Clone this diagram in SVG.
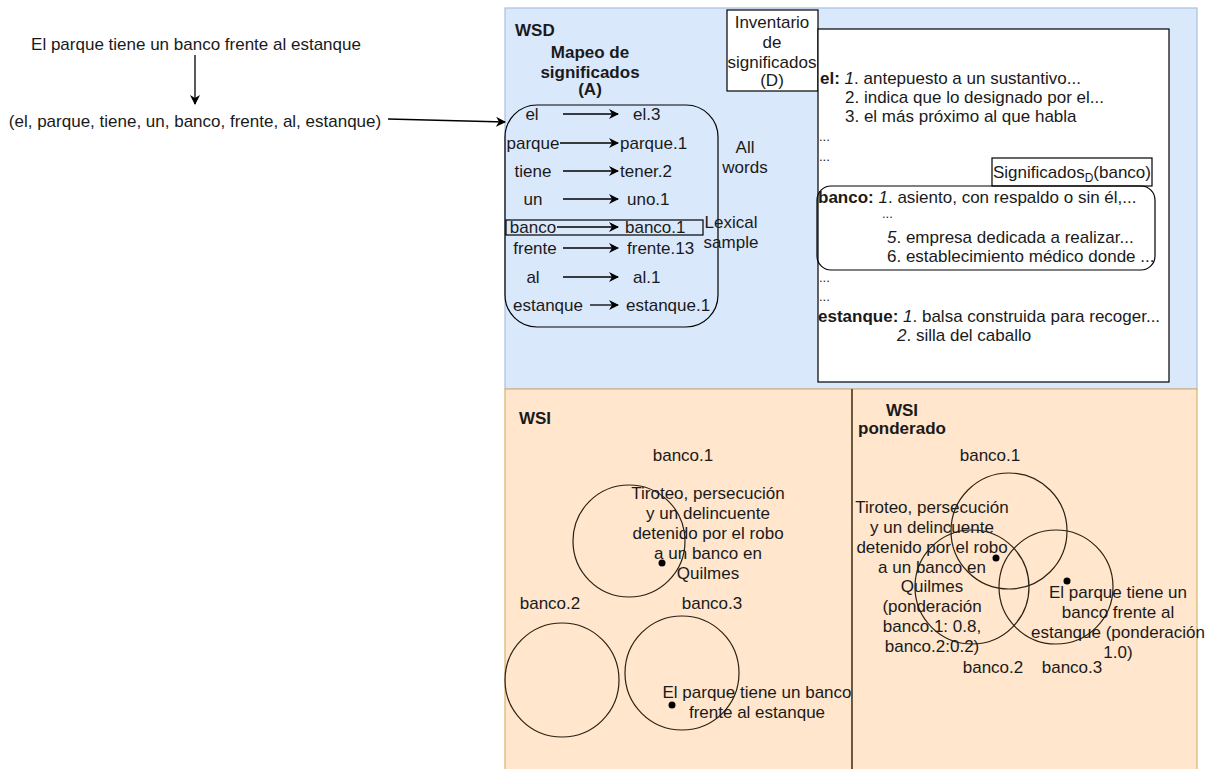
<svg xmlns="http://www.w3.org/2000/svg" width="1212" height="769" viewBox="0 0 1212 769">
  <style>
    text { font-family: "Liberation Sans", Arial, sans-serif; font-size: 17px; fill: #1a1a1a; }
    .b { font-weight: bold; }
    .i { font-style: italic; }
    .c { text-anchor: middle; }
    .dots { font-size: 13px; }
    .ln { stroke: #000; stroke-width: 1.3; fill: none; }
    .circ { stroke: #2a2014; stroke-width: 1.2; fill: none; }
    .box { stroke: #000; stroke-width: 1.2; fill: #fff; }
  </style>
  <defs>
    <marker id="arr" viewBox="0 0 10 10" refX="9" refY="5" markerWidth="10" markerHeight="10" markerUnits="userSpaceOnUse" orient="auto">
      <path d="M0,0 L10,5 L0,10 L3,5 Z" fill="#000"/>
    </marker>
  </defs>

  <rect width="1212" height="769" fill="#fff"/>

  <!-- input sentence -->
  <g id="sentence">
    <text x="196" y="50" class="c">El parque tiene un banco frente al estanque</text>
  </g>
  <g id="tokens">
    <text x="195" y="127" class="c">(el, parque, tiene, un, banco, frente, al, estanque)</text>
  </g>

  <!-- WSD panel -->
  <g id="wsd">
    <rect x="505" y="8" width="692" height="381" fill="#dae8fc" stroke="#a9c0e0" stroke-width="1.2"/>
    <text x="515" y="36" class="b">WSD</text>
    <text x="590" y="58" class="b c">Mapeo de</text>
    <text x="590" y="78" class="b c">significados</text>
    <text x="590" y="95" class="b c">(A)</text>
  </g>

  <!-- WSI panels -->
  <g id="wsi">
    <rect x="505" y="389" width="347" height="390" fill="#ffe6cc" stroke="#d7b46a" stroke-width="1.2"/>
    <text x="535" y="424" class="b c">WSI</text>
  </g>
  <g id="wsi-ponderado">
    <rect x="852" y="389" width="345" height="390" fill="#ffe6cc" stroke="#d7b46a" stroke-width="1.2"/>
    <line x1="852" y1="389" x2="852" y2="769" stroke="#2a2014" stroke-width="1.3"/>
    <text x="902" y="416" class="b c">WSI</text>
    <text x="902" y="434" class="b c">ponderado</text>
  </g>

  <!-- sense inventory -->
  <g id="inventario">
    <rect x="727" y="10" width="91" height="81" class="box"/>
    <text x="772" y="28" class="c">Inventario</text>
    <text x="772" y="48" class="c">de</text>
    <text x="772" y="68" class="c">significados</text>
    <text x="772" y="86" class="c">(D)</text>
  </g>

  <g id="definiciones">
    <rect x="818" y="29" width="351" height="353" class="box"/>
    <text x="820" y="84"><tspan class="b">el:</tspan> <tspan class="i">1</tspan>. antepuesto a un sustantivo...</text>
    <text x="845" y="103">2. indica que lo designado por el...</text>
    <text x="845" y="122">3. el más próximo al que habla</text>
    <text x="819" y="141" class="dots">...</text>
    <text x="819" y="161" class="dots">...</text>
    <text x="819" y="282" class="dots">...</text>
    <text x="819" y="301" class="dots">...</text>
    <text x="818" y="322"><tspan class="b">estanque:</tspan> <tspan class="i">1</tspan>. balsa construida para recoger...</text>
    <text x="897" y="341"><tspan class="i">2</tspan>. silla del caballo</text>
  </g>

  <g id="significados-banco">
    <rect x="992" y="158" width="160" height="28" class="box"/>
    <text x="1072" y="178" class="c">Significados<tspan font-size="12" dy="4">D</tspan><tspan dy="-4">(banco)</tspan></text>
  </g>

  <g id="banco-entry">
    <rect x="817" y="186" width="338" height="84" rx="14" ry="14" fill="none" stroke="#000" stroke-width="1.2"/>
    <text x="818" y="203"><tspan class="b">banco:</tspan> <tspan class="i">1</tspan>. asiento, con respaldo o sin él,...</text>
    <text x="882" y="218" class="dots">...</text>
    <text x="887" y="243"><tspan class="i">5</tspan>. empresa dedicada a realizar...</text>
    <text x="887" y="262">6. establecimiento médico donde ...</text>
  </g>

  <!-- word to sense mapping -->
  <g id="mapeo">
    <rect x="505" y="105" width="213" height="222" rx="32" ry="32" fill="none" stroke="#000" stroke-width="1.2"/>
    <rect x="506" y="220" width="197" height="15" fill="none" stroke="#000" stroke-width="1.2"/>
    <text x="532" y="120" class="c">el</text>
    <text x="533" y="149" class="c">parque</text>
    <text x="533" y="177" class="c">tiene</text>
    <text x="533" y="205" class="c">un</text>
    <text x="533" y="233" class="c">banco</text>
    <text x="535" y="254" class="c">frente</text>
    <text x="533" y="283" class="c">al</text>
    <text x="548" y="311" class="c">estanque</text>
    <text x="633" y="120">el.3</text>
    <text x="620" y="149">parque.1</text>
    <text x="620" y="177">tener.2</text>
    <text x="627" y="205">uno.1</text>
    <text x="625" y="233">banco.1</text>
    <text x="627" y="254">frente.13</text>
    <text x="633" y="283">al.1</text>
    <text x="626" y="311">estanque.1</text>
    <text x="745" y="153" class="c">All</text>
    <text x="745" y="173" class="c">words</text>
    <text x="731" y="228" class="c">Lexical</text>
    <text x="731" y="248" class="c">sample</text>
  </g>

  <!-- WSI clusters -->
  <g id="wsi-clusters">
    <text x="683" y="461" class="c">banco.1</text>
    <circle cx="629" cy="541" r="56" class="circ"/>
    <text x="708" y="499" class="c">Tiroteo, persecución</text>
    <text x="708" y="519" class="c">y un delincuente</text>
    <text x="708" y="539" class="c">detenido por el robo</text>
    <text x="708" y="559" class="c">a un banco en</text>
    <text x="708" y="579" class="c">Quilmes</text>
    <circle cx="662" cy="563" r="3.5" fill="#000"/>

    <text x="550" y="609" class="c">banco.2</text>
    <text x="712" y="609" class="c">banco.3</text>
    <circle cx="562" cy="680" r="57" class="circ"/>
    <circle cx="682" cy="673" r="57" class="circ"/>
    <text x="757" y="698" class="c">El parque tiene un banco</text>
    <text x="757" y="718" class="c">frente al estanque</text>
    <circle cx="672" cy="705" r="3.5" fill="#000"/>
  </g>

  <g id="wsi-ponderado-clusters">
    <text x="990" y="461" class="c">banco.1</text>
    <circle cx="1009" cy="531" r="58" class="circ"/>
    <circle cx="972" cy="587" r="57" class="circ"/>
    <circle cx="1056" cy="587" r="57" class="circ"/>
    <text x="932" y="513" class="c">Tiroteo, persecución</text>
    <text x="932" y="533" class="c">y un delincuente</text>
    <text x="932" y="553" class="c">detenido por el robo</text>
    <text x="932" y="573" class="c">a un banco en</text>
    <text x="932" y="592" class="c">Quilmes</text>
    <text x="932" y="612" class="c">(ponderación</text>
    <text x="932" y="632" class="c">banco.1: 0.8,</text>
    <text x="932" y="652" class="c">banco.2:0.2)</text>
    <circle cx="996" cy="558" r="3.5" fill="#000"/>
    <text x="1118" y="598" class="c">El parque tiene un</text>
    <text x="1118" y="618" class="c">banco frente al</text>
    <text x="1118" y="638" class="c">estanque (ponderación</text>
    <text x="1118" y="658" class="c">1.0)</text>
    <circle cx="1067" cy="581" r="3.5" fill="#000"/>
    <text x="993" y="673" class="c">banco.2</text>
    <text x="1072" y="673" class="c">banco.3</text>
  </g>

  <!-- connectors -->
  <g id="connectors">
    <line x1="195" y1="55" x2="195" y2="104" class="ln" marker-end="url(#arr)"/>
    <line x1="388" y1="119" x2="505" y2="122" class="ln" marker-end="url(#arr)"/>
    <line x1="563" y1="114" x2="618" y2="114" class="ln" marker-end="url(#arr)"/>
    <line x1="560" y1="143" x2="618" y2="143" class="ln" marker-end="url(#arr)"/>
    <line x1="563" y1="171" x2="618" y2="171" class="ln" marker-end="url(#arr)"/>
    <line x1="563" y1="199" x2="618" y2="199" class="ln" marker-end="url(#arr)"/>
    <line x1="557" y1="227" x2="618" y2="227" class="ln" marker-end="url(#arr)"/>
    <line x1="563" y1="248" x2="618" y2="248" class="ln" marker-end="url(#arr)"/>
    <line x1="563" y1="277" x2="618" y2="277" class="ln" marker-end="url(#arr)"/>
    <line x1="590" y1="305" x2="618" y2="305" class="ln" marker-end="url(#arr)"/>
  </g>
</svg>
